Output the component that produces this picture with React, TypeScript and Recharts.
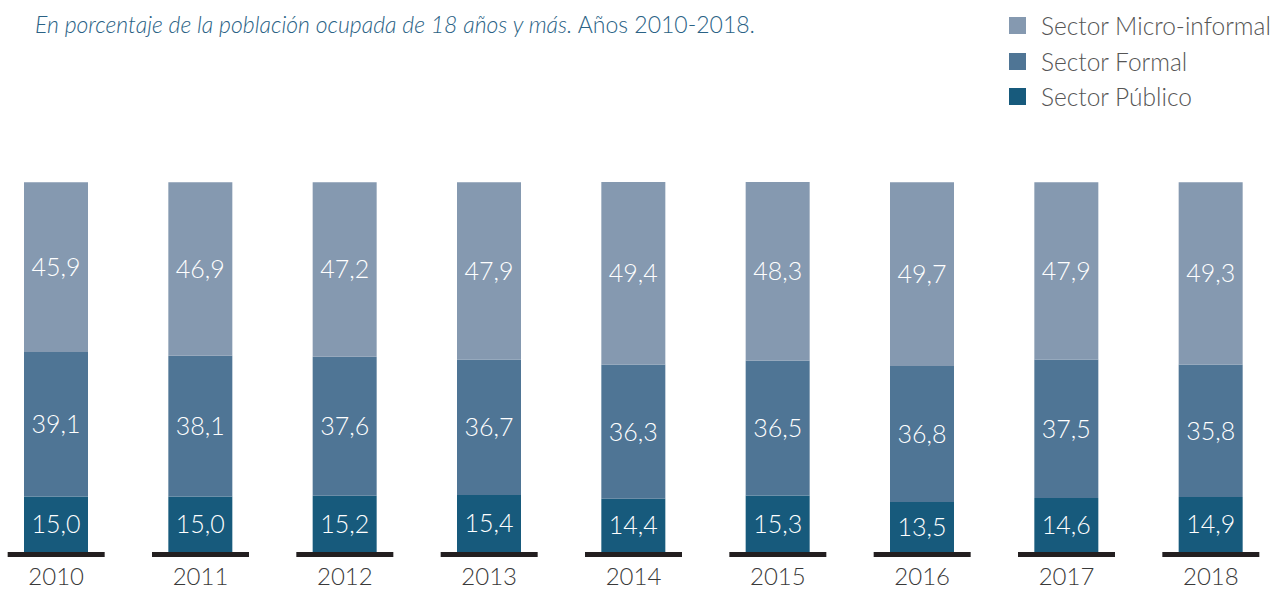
import { BarChart, Bar, XAxis, YAxis, LabelList } from 'recharts';

const years = ['2010', '2011', '2012', '2013', '2014', '2015', '2016', '2017', '2018'];
const publico = [15.0, 15.0, 15.2, 15.4, 14.4, 15.3, 13.5, 14.6, 14.9];
const formal = [39.1, 38.1, 37.6, 36.7, 36.3, 36.5, 36.8, 37.5, 35.8];
const microInformal = [45.9, 46.9, 47.2, 47.9, 49.4, 48.3, 49.7, 47.9, 49.3];

const data = years.map((year, i) => ({
  year,
  publico: publico[i],
  formal: formal[i],
  micro: microInformal[i],
}));

const legendItems = [
  { label: 'Sector Micro-informal', color: '#8599b0' },
  { label: 'Sector Formal', color: '#4f7595' },
  { label: 'Sector Público', color: '#175a7c' },
];

const FONT = 'Lato, "Open Sans", sans-serif';
const fmt = (v: number) => v.toFixed(1).replace('.', ',');

function YearTick({ x, y, payload }: any) {
  return (
    <g>
      <rect x={x - 48.5} y={y} width={97} height={5} fill="#231f20" />
      <text x={x} y={y + 33} textAnchor="middle" fontSize={24} fontWeight={300} fill="#3a3a3a" fontFamily={FONT}>
        {payload.value}
      </text>
    </g>
  );
}

const labelStyle = { fill: '#ffffff', fontSize: 25, fontWeight: 300, fontFamily: FONT };

export default function App() {
  return (
    <div style={{ position: 'absolute', left: 0, top: 0, width: 1274, height: 591, background: '#fff' }}>
      <div
        style={{
          position: 'absolute',
          left: 35,
          top: 11,
          fontFamily: FONT,
          fontSize: 23,
          fontWeight: 300,
          color: '#2a6285',
          whiteSpace: 'nowrap',
          lineHeight: '26px',
        }}
      >
        <i>En porcentaje de la población ocupada de 18 años y más.</i> Años 2010-2018.
      </div>
      <div style={{ position: 'absolute', left: 1009, top: 8, fontFamily: FONT }}>
        {legendItems.map((it) => (
          <div key={it.label} style={{ display: 'flex', alignItems: 'center', height: 35.5 }}>
            <span style={{ width: 17, height: 17, background: it.color, display: 'inline-block', marginRight: 15 }} />
            <span style={{ fontSize: 24.5, fontWeight: 300, color: '#555' }}>{it.label}</span>
          </div>
        ))}
      </div>
      <BarChart
        width={1274}
        height={591}
        data={data}
        margin={{ top: 182, right: -9, bottom: 0, left: -16 }}
      >
        <XAxis
          dataKey="year"
          height={39}
          axisLine={false}
          tickLine={false}
          tickSize={0}
          tickMargin={0}
          interval={0}
          tick={<YearTick />}
        />
        <YAxis hide domain={[0, 100]} />
        <Bar dataKey="publico" stackId="a" fill="#175a7c" barSize={64} isAnimationActive={false}>
          <LabelList dataKey="publico" position="center" formatter={fmt} style={labelStyle} />
        </Bar>
        <Bar dataKey="formal" stackId="a" fill="#4f7595" barSize={64} isAnimationActive={false}>
          <LabelList dataKey="formal" position="center" formatter={fmt} style={labelStyle} />
        </Bar>
        <Bar dataKey="micro" stackId="a" fill="#8599b0" barSize={64} isAnimationActive={false}>
          <LabelList dataKey="micro" position="center" formatter={fmt} style={labelStyle} />
        </Bar>
      </BarChart>
    </div>
  );
}
